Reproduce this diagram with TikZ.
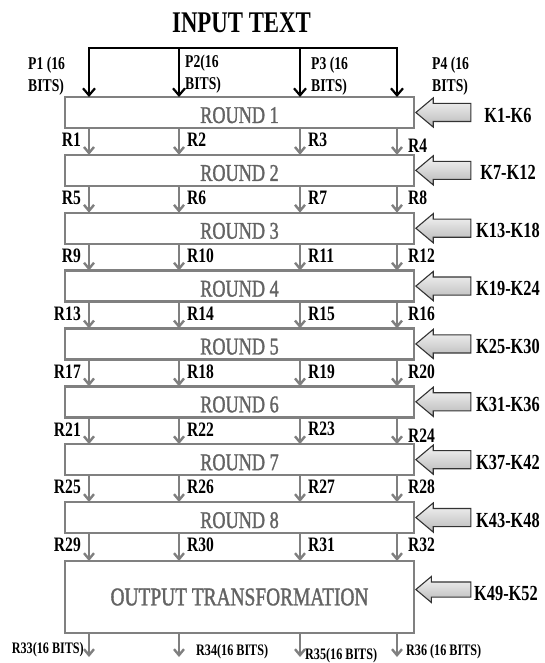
\documentclass[tikz,border=0pt]{standalone}
\usepackage{fontspec}
\setmainfont{Liberation Serif}[FakeStretch=0.76]
\newfontfamily\roundfont{Liberation Serif}[FakeStretch=0.76,FakeBold=1.3]
\usetikzlibrary{arrows.meta,shapes.arrows}
\definecolor{boxgray}{HTML}{808080}
\definecolor{arrgray}{HTML}{7F7F7F}
\definecolor{txtgray}{HTML}{636363}
\definecolor{keyedge}{HTML}{333333}
\begin{document}
\begin{tikzpicture}[x=1pt,y=-1pt,
  rbox/.style={draw=boxgray,line width=2.4pt,fill=white,inner sep=0pt,outer sep=0pt,
    minimum width=349pt,anchor=north west,font=\roundfont\fontsize{24}{24}\selectfont,text=txtgray},
  flow/.style={draw=arrgray,line width=2.4pt,-{Straight Barb[length=6pt,width=10pt]}},
  inflow/.style={draw=black,line width=2.2pt,-{Straight Barb[length=7pt,width=12pt]}},
  rlab/.style={font=\bfseries\fontsize{20.5}{20.5}\selectfont,inner sep=0pt},
  plab/.style={font=\bfseries\fontsize{18}{22}\selectfont,inner sep=0pt,align=left,anchor=west},
  klab/.style={font=\bfseries\fontsize{21.5}{21.5}\selectfont,inner sep=0pt},
  keyarr/.style={single arrow,shape border rotate=180,draw=keyedge,line width=1.1pt,
    top color=gray!8,bottom color=gray!55,single arrow tip angle=80,inner xsep=0pt,
    minimum height=55pt,anchor=tip},
  olab/.style={font=\bfseries\fontsize{16}{16}\selectfont,inner sep=0pt}
]
\useasboundingbox (0,0) rectangle (544,663);

% title and input bus
\node[font=\bfseries\fontsize{30}{30}\selectfont,inner sep=0pt] (title) at (241.5,23) {INPUT TEXT};
\coordinate (b1) at (89,48);
\coordinate (b2) at (179,48);
\coordinate (b3) at (300,48);
\coordinate (b4) at (397,48);
\coordinate (c1) at (89,0);
\coordinate (c2) at (179,0);
\coordinate (c3) at (300,0);
\coordinate (c4) at (397,0);

% rounds
\foreach \k in {1,...,8}{
  \pgfmathsetmacro\tp{97+57.86*(\k-1)}
  \node[rbox,minimum height=31pt,text height=21pt,text depth=0pt] (r\k) at (65,\tp) {ROUND \k};
}
\node[rbox,minimum height=72pt,font=\roundfont\fontsize{25.5}{25.5}\selectfont] (r9) at (65,561) {OUTPUT TRANSFORMATION};

\draw[line width=2.2pt,line cap=rect] (b1) -- (b4);
\foreach \c in {1,...,4} \draw[inflow] (b\c) -- (r1.north -| b\c);

\node[plab] (p1) at (28,76) {P1 (16\\BITS)};
\node[plab] (p2) at (185,74) {P2(16\\BITS)};
\node[plab] (p3) at (311,76) {P3 (16\\BITS)};
\node[plab] (p4) at (432,76) {P4 (16\\BITS)};

% flows between rounds
\foreach \k [evaluate=\k as \n using int(\k+1)] in {1,...,8}{
  \foreach \c in {1,...,4}{
    \draw[flow] (r\k.south -| c\c) -- (r\n.north -| c\c);
  }
  \pgfmathsetmacro\ly{97+57.86*(\k-1)+43}
  \pgfmathsetmacro\dy{(\k==1||\k==6)?6:0}
  \pgfmathtruncatemacro\na{4*\k-3}
  \pgfmathtruncatemacro\nb{4*\k-2}
  \pgfmathtruncatemacro\nc{4*\k-1}
  \pgfmathtruncatemacro\nd{4*\k}
  \node[rlab,anchor=east] (lab\na) at (81,\ly) {R\na};
  \node[rlab,anchor=west] (lab\nb) at (187,\ly) {R\nb};
  \node[rlab,anchor=west] (lab\nc) at (308,\ly) {R\nc};
  \node[rlab,anchor=west] (lab\nd) at (408,\ly+\dy) {R\nd};
}

% key arrows
\foreach \k in {1,...,8}{
  \pgfmathsetmacro\cy{97+57.86*(\k-1)+15.5}
  \pgfmathtruncatemacro\ka{6*\k-5}
  \pgfmathtruncatemacro\kb{6*\k}
  \node[keyarr,inner ysep=8.5pt,single arrow head extend=5.5pt] (ka\k) at (415,\cy) {};
  \node[klab] (kl\k) at (508,\cy+2.5) {K\ka-K\kb};
}
\node[keyarr,inner ysep=7pt,single arrow head extend=5.5pt] (ka9) at (415,589.5) {};
\node[klab] (kl9) at (506,593) {K49-K52};

% outputs
\coordinate (o1) at (89,657);
\coordinate (o2) at (179,657);
\coordinate (o3) at (300,657);
\coordinate (o4) at (397,657);
\foreach \c in {1,...,4} \draw[flow] (r9.south -| o\c) -- (o\c);
\node[olab,anchor=east] (out1) at (84,650) {R33(16 BITS)};
\node[olab,anchor=west] (out2) at (196,652) {R34(16 BITS)};
\node[olab,anchor=west] (out3) at (305,656) {R35(16 BITS)};
\node[olab,anchor=west] (out4) at (406,652) {R36 (16 BITS)};
\end{tikzpicture}
\end{document}
